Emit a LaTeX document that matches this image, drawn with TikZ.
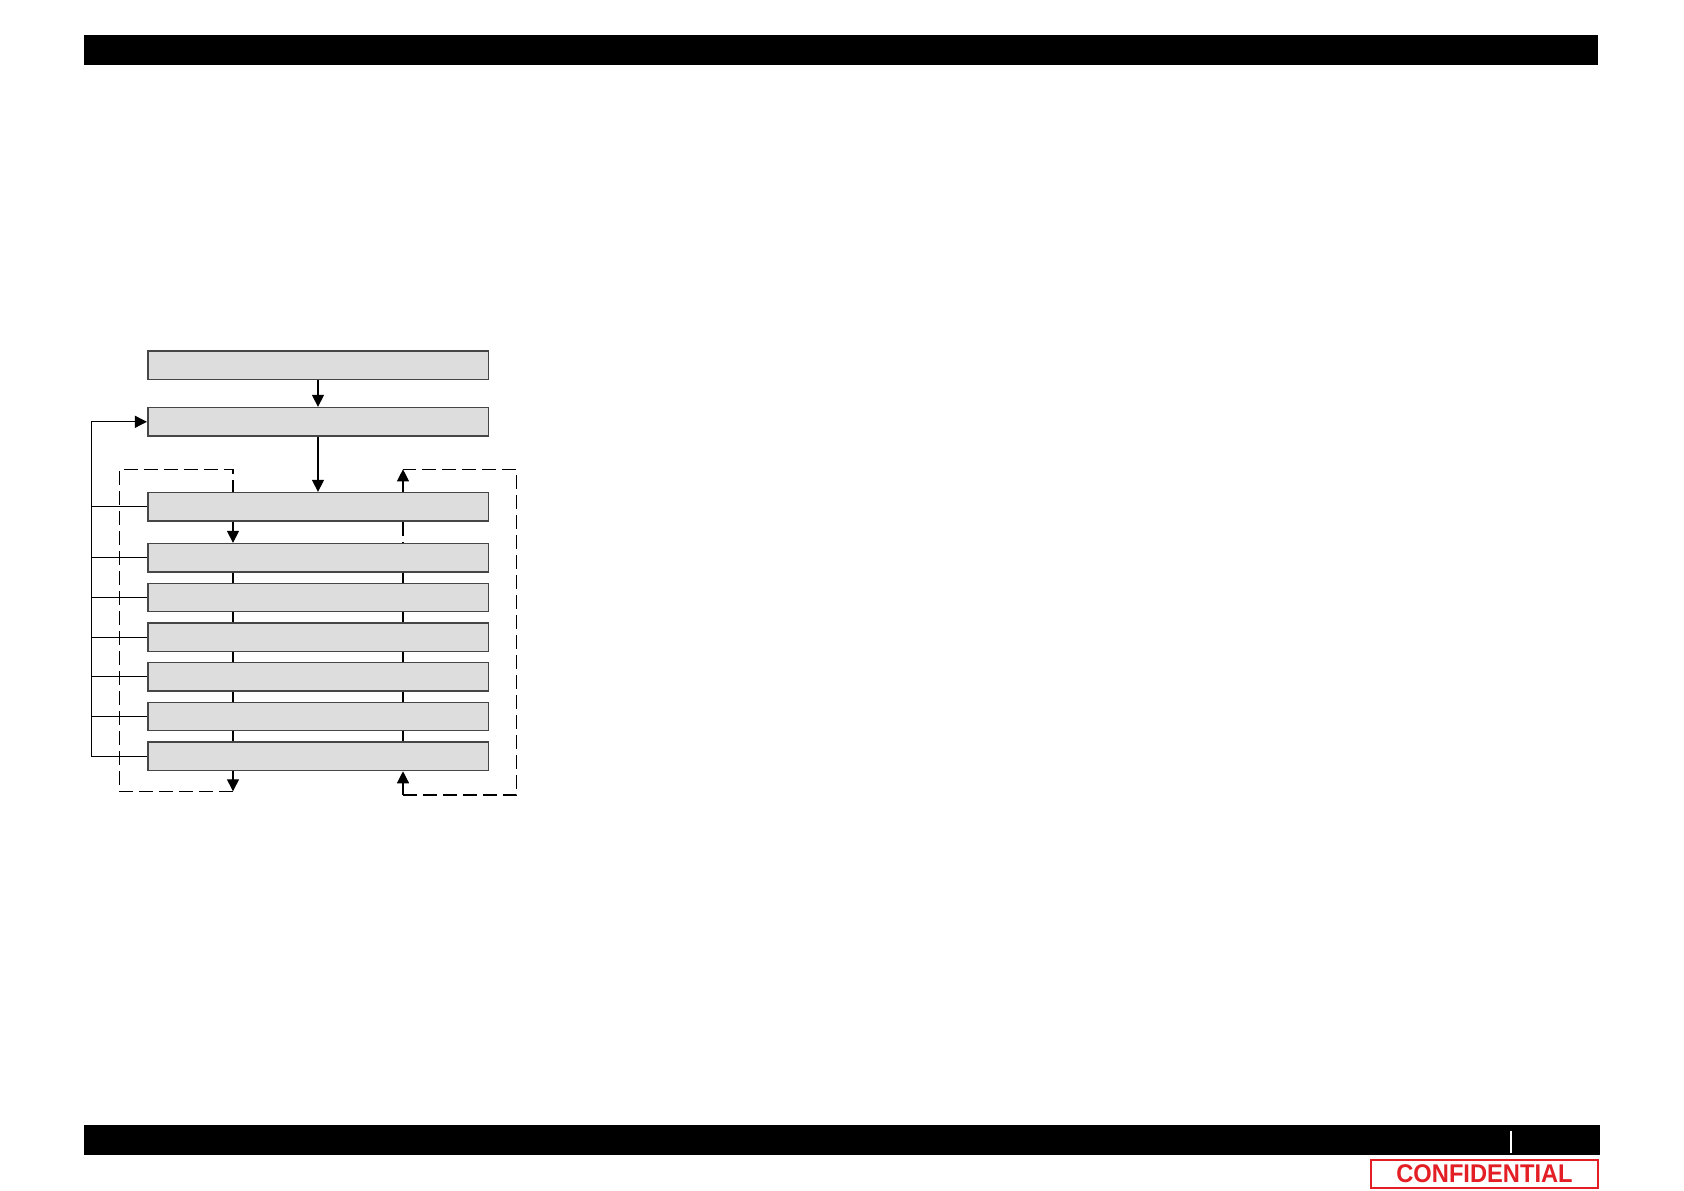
\documentclass[tikz,border=0pt]{standalone}
\usepackage{fontspec}
\usepackage{graphicx}
\usepackage{xcolor}
\usetikzlibrary{arrows.meta}
\newfontfamily\conffont{Liberation Sans Bold}
\definecolor{boxfill}{RGB}{221,221,221}
\definecolor{boxline}{RGB}{70,70,70}
\definecolor{confred}{RGB}{227,30,36}

\begin{document}
\begin{tikzpicture}[
        x=0.5pt, y=-0.5pt,
        >={Triangle[length=6pt,width=6pt]},
        stage box/.style={rectangle, draw=boxline, fill=boxfill, line width=0.8pt,
            minimum width=170.3pt, minimum height=14.15pt, inner sep=0pt},
        loop line/.style={dash pattern=on 7pt off 3pt},
        every path/.style={line width=0.6pt},
    ]

    \useasboundingbox[fill=white] (0,0) rectangle (1684,1190);

    % page bars
    \fill[black] (83.8,35.4) rectangle (1598,64.5);
    \fill[black] (84,1125) rectangle (1600,1154.7);
    \draw[white, line width=1pt] (1511,1130.7) -- (1511,1152.7);
    \node[draw=confred, line width=1pt, text=confred, inner sep=0pt,
        minimum width=113.8pt, minimum height=14.3pt] (conf) at (1484.5,1174)
        {\conffont\fontsize{12.8}{13}\selectfont\scalebox{0.925}[1]{CONFIDENTIAL}};

    \node[stage box] (b1) at (318,365.2) {};
    \node[stage box] (b2) at (318,421.8) {};
    \node[stage box] (b3) at (318,506.8) {};
    \node[stage box] (b4) at (318,557.8) {};
    \node[stage box] (b5) at (318,597.5) {};
    \node[stage box] (b6) at (318,637.3) {};
    \node[stage box] (b7) at (318,676.8) {};
    \node[stage box] (b8) at (318,716.5) {};
    \node[stage box] (b9) at (318,756.3) {};

    \coordinate (lbus) at (91.3,756.3);
    \coordinate (ltop) at (233,469.3);
    \coordinate (lbot) at (233,791.3);
    \coordinate (lside) at (119.5,791.3);
    \coordinate (rtop) at (403,469.3);
    \coordinate (rbot) at (403,795);
    \coordinate (rside) at (516.5,795);

    \draw[->] (b1) -- (b2);
    \draw[->] (b2) -- (b3);

    % return to b2
    \draw[->] (b9.west) -- (lbus) |- (b2.west);
    \foreach \n in {3,...,8}
        \draw (b\n.west) -- (b\n.west -| lbus);

    % left dashed loop
    \draw[->] (b9.south -| lbot) -- (lbot);
    \draw[loop line] (lbot) -- (lside) |- (ltop) -- (b3.north -| ltop);
    \draw[loop line, ->] (b3.south -| ltop) -- (b4.north -| ltop);
    \foreach \a/\b in {4/5,5/6,6/7,7/8,8/9}
        \draw[loop line] (b\a.south -| ltop) -- (b\b.north -| ltop);

    % right dashed loop
    \draw[->] (rbot) -- (b9.south -| rbot);
    \draw[loop line] (rbot) -- (rside) |- (rtop);
    \draw[->] (b3.north -| rtop) -- (rtop);
    \foreach \a/\b in {3/4,4/5,5/6,6/7,7/8,8/9}
        \draw[loop line] (b\a.south -| rtop) -- (b\b.north -| rtop);
\end{tikzpicture}
\end{document}
